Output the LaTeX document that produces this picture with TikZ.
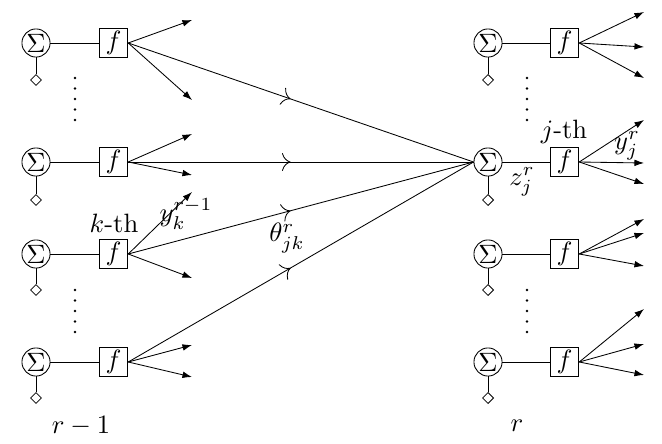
\documentclass[tikz,border=0pt]{standalone}
\usetikzlibrary{arrows.meta,decorations.markings,shapes.geometric}
\begin{document}
\begin{tikzpicture}[x=0.377pt,y=-0.377pt,line width=0.32pt,
  sumnode/.style={circle,draw,inner sep=0pt,minimum size=10.6pt},
  fbox/.style={rectangle,draw,inner sep=0pt,minimum size=10.8pt},
  bias/.style={diamond,draw,inner sep=0pt,minimum size=4.2pt},
  outarrow/.style={-{Latex[length=3.6pt,width=2.5pt]}},
  wgt/.style={postaction={decorate},decoration={markings,mark=at position 0.47 with {\arrow{To[scale=1.4]}}}},
  lbl/.style={inner sep=0pt},
  dotmark/.style={fill=black}]
\useasboundingbox (0,0) rectangle (662,444);

% left layer
\foreach \i/\y/\d in {1/43/80, 2/162/200, 3/254/290, 4/362/398}{
  \node[sumnode] (L\i) at (36,\y) {$\Sigma$};
  \node[fbox] (FL\i) at (113.5,\y) {$f$};
  \node[bias] (DL\i) at (36,\d) {};
  \draw (L\i) -- (FL\i);
  \draw (L\i) -- (DL\i);
}
% right layer
\foreach \i/\y/\d in {1/43/80, 2/162/200, 3/254/290, 4/362/398}{
  \node[sumnode] (R\i) at (488,\y) {$\Sigma$};
  \node[fbox] (FR\i) at (564.5,\y) {$f$};
  \node[bias] (DR\i) at (488,\d) {};
  \draw (R\i) -- (FR\i);
  \draw (R\i) -- (DR\i);
}

% output arrow end points, left
\coordinate (a1) at (192,20);  \coordinate (b1) at (192,100);
\coordinate (a2) at (192,134); \coordinate (b2) at (192,175);
\coordinate (a3) at (192,192); \coordinate (b3) at (192,278);
\coordinate (a4) at (192,345); \coordinate (b4) at (192,377);
\foreach \i in {1,2,3,4}{
  \draw[outarrow] (FL\i.east) -- (a\i);
  \draw[outarrow] (FL\i.east) -- (b\i);
}
% output arrow end points, right
\coordinate (p1) at (644,12);  \coordinate (q1) at (644,47);  \coordinate (s1) at (644,78);
\coordinate (p2) at (644,120); \coordinate (q2) at (644,163); \coordinate (s2) at (644,184);
\coordinate (p3) at (644,219); \coordinate (q3) at (644,233); \coordinate (s3) at (644,266);
\coordinate (p4) at (644,309); \coordinate (q4) at (644,344); \coordinate (s4) at (644,375);
\foreach \i in {1,2,3,4}{
  \draw[outarrow] (FR\i.east) -- (p\i);
  \draw[outarrow] (FR\i.east) -- (q\i);
  \draw[outarrow] (FR\i.east) -- (s\i);
}

% weighted connections
\foreach \i in {1,2,3,4}{
  \draw[wgt] (FL\i.east) -- (R2.west);
}

% vertical dots
\foreach \y in {78,88.5,99,109.5,120}{
  \fill[dotmark] (75,\y) circle (1.3);
  \fill[dotmark] (527,\y) circle (1.3);
}
\foreach \y in {290,300.5,311,321.5,332}{
  \fill[dotmark] (75,\y) circle (1.3);
  \fill[dotmark] (527,\y) circle (1.3);
}

% labels
\node[lbl] (kth) at (114,223) {$k$-th};
\node[lbl] (ylab) at (186,214) {$y_k^{r-1}$};
\node[lbl] (theta) at (287,238) {$\theta_{jk}^r$};
\node[lbl] (jth) at (564,132) {$j$-th};
\node[lbl] (yj) at (627,146) {$y_j^r$};
\node[lbl] (zj) at (522,182) {$z_j^r$};
\node[lbl] (rm1) at (81,426) {$r-1$};
\node[lbl] (rr) at (517,426) {$r$};
\end{tikzpicture}
\end{document}
